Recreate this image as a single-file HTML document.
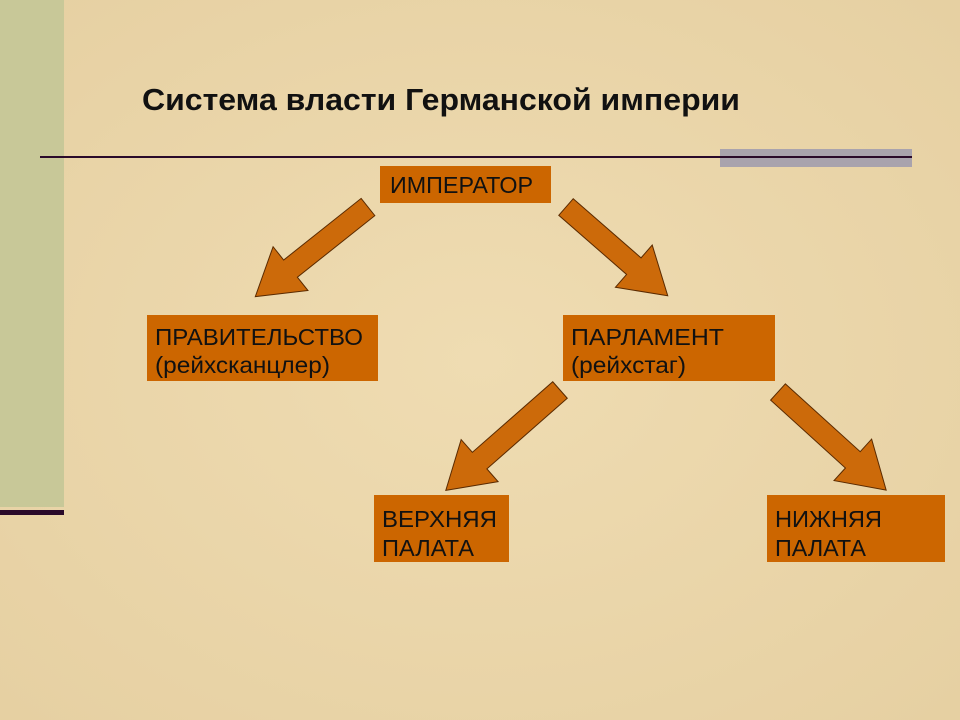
<!DOCTYPE html>
<html><head><meta charset="utf-8"><style>
html,body{margin:0;padding:0;}
body{width:960px;height:720px;overflow:hidden;background:#ecd9ae;}
svg{display:block}
text{font-family:"Liberation Sans",Arial,sans-serif;}
</style></head><body>
<svg width="960" height="720" viewBox="0 0 960 720" xmlns="http://www.w3.org/2000/svg">
<defs>
<radialGradient id="bg" cx="50%" cy="50%" r="70%">
<stop offset="0" stop-color="#efdcb2"/><stop offset="1" stop-color="#e6d0a2"/>
</radialGradient>
</defs>
<rect width="960" height="720" fill="url(#bg)"/>
<rect x="0" y="0" width="64" height="507" fill="#c8c898"/>
<rect x="0" y="510" width="64" height="5" fill="#2a0a2a"/>
<text x="142" y="110" font-size="31" font-weight="bold" fill="#111" textLength="598" lengthAdjust="spacingAndGlyphs">Система власти Германской империи</text>
<rect x="720" y="149" width="192" height="18" fill="#a9a3ad"/>
<rect x="40" y="156" width="872" height="2" fill="#2a0a2a"/>

<g fill="#cc6a0a" stroke="#5a2a00" stroke-width="1">
<polygon transform="translate(368,207) rotate(141.5)" points="0,-11 99,-11 99,-28 144,0 99,28 99,11 0,11"/>
<polygon transform="translate(566,207) rotate(41.1)" points="0,-11 90,-11 90,-28 135,0 90,28 90,11 0,11"/>
<polygon transform="translate(560,390) rotate(138.7)" points="0,-11 107,-11 107,-28 152,0 107,28 107,11 0,11"/>
<polygon transform="translate(778,392) rotate(42.2)" points="0,-11 101,-11 101,-28 146,0 101,28 101,11 0,11"/>
</g>

<g fill="#cc6600">
<rect x="380" y="166" width="171" height="37"/>
<rect x="147" y="315" width="231" height="66"/>
<rect x="563" y="315" width="212" height="66"/>
<rect x="374" y="495" width="135" height="67"/>
<rect x="767" y="495" width="178" height="67"/>
</g>
<g fill="#111" font-size="23">
<text x="390" y="193" textLength="143" lengthAdjust="spacingAndGlyphs">ИМПЕРАТОР</text>
<text x="155" y="345" textLength="208" lengthAdjust="spacingAndGlyphs">ПРАВИТЕЛЬСТВО</text>
<text x="155" y="373" textLength="175" lengthAdjust="spacingAndGlyphs">(рейхсканцлер)</text>
<text x="571" y="345" textLength="153" lengthAdjust="spacingAndGlyphs">ПАРЛАМЕНТ</text>
<text x="571" y="373" textLength="115" lengthAdjust="spacingAndGlyphs">(рейхстаг)</text>
<text x="382" y="527" textLength="115" lengthAdjust="spacingAndGlyphs">ВЕРХНЯЯ</text>
<text x="382" y="556" textLength="92" lengthAdjust="spacingAndGlyphs">ПАЛАТА</text>
<text x="775" y="527" textLength="107" lengthAdjust="spacingAndGlyphs">НИЖНЯЯ</text>
<text x="775" y="556" textLength="91" lengthAdjust="spacingAndGlyphs">ПАЛАТА</text>
</g>
</svg>
</body></html>
